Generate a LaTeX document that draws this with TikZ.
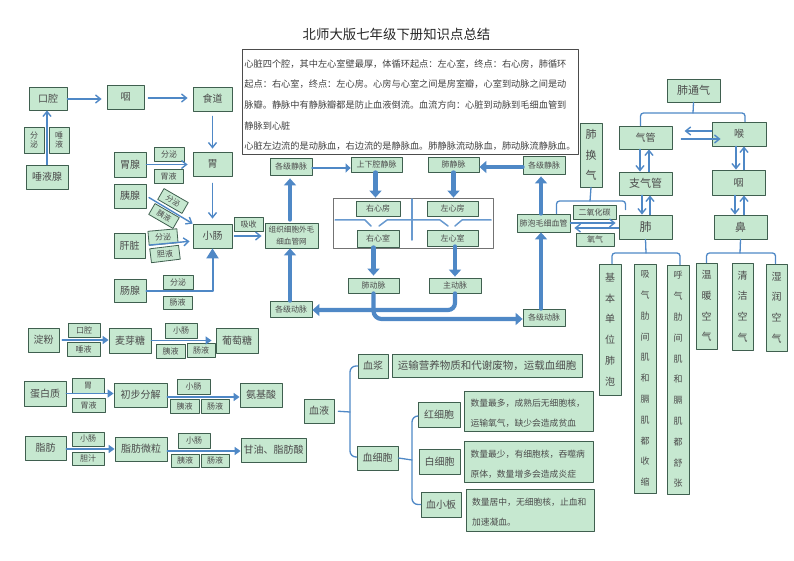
\documentclass[tikz,border=0pt]{standalone}
\usepackage{fontspec}
\setmainfont{Noto Sans CJK SC}
\usetikzlibrary{arrows.meta}
\definecolor{boxgreen}{HTML}{C6E8D0}
\definecolor{boxline}{HTML}{3F5F4F}
\definecolor{arrowblue}{HTML}{4F88C6}
\tikzset{
  gbox/.style={draw=boxline,fill=boxgreen,line width=0.8pt,inner sep=0pt,align=center,text=black!70,font=\fontsize{10}{12}\selectfont},
  gsmall/.style={gbox,font=\fontsize{8}{9}\selectfont},
  gtall/.style={gbox,font=\fontsize{10}{20.8}\selectfont},
  gnote/.style={gbox,align=left,text width=116pt,font=\fontsize{8.8}{20}\selectfont,execute at begin node=\rule{0pt}{12pt}},
  bx/.style 2 args={minimum width=#1pt,minimum height=#2pt},
  thinarrow/.style={draw=arrowblue,line width=1.4pt,-{Straight Barb[length=5pt,width=8pt]}},
  midarrow/.style={draw=arrowblue,line width=1.8pt,-{Triangle[length=6pt,width=8pt]}},
  thickarrow/.style={draw=arrowblue,line width=4.2pt,-{Triangle[length=7pt,width=12pt]}},
  bline/.style={draw=arrowblue,line width=1.3pt,rounded corners=3pt}
}
\begin{document}
\begin{tikzpicture}[line cap=round,line join=round,x=1pt,y=-1pt]
\useasboundingbox (0,0) rectangle (794,561);
\node[font=\fontsize{13.4}{15}\selectfont,inner sep=0pt,text=black!85] (title) at (396.5,34) {北师大版七年级下册知识点总结};
\node[draw=black!70,line width=0.8pt,inner sep=0pt,bx={336}{105},align=left,text=black!75,font=\fontsize{9.2}{20.7}\selectfont] (note) at (410,101.5) {\rule{0pt}{15pt}心脏四个腔，其中左心室壁最厚，体循环起点：左心室，终点：右心房，肺循环\\起点：右心室，终点：左心房。心房与心室之间是房室瓣，心室到动脉之间是动\\脉瓣。静脉中有静脉瓣都是防止血液倒流。血流方向：心脏到动脉到毛细血管到\\静脉到心脏\\心脏左边流的是动脉血，右边流的是静脉血。肺静脉流动脉血，肺动脉流静脉血。};

\node[gbox,bx={38}{23}] (kouqiang) at (48,98.5) {口腔};
\node[gbox,bx={37}{24}] (yan) at (125.5,97) {咽};
\node[gbox,bx={39}{24}] (shidao) at (212.5,99) {食道};
\node[gsmall,bx={20}{26}] (fenmiA) at (34,140) {分\\泌};
\node[gsmall,bx={20}{26}] (tuoyeA) at (59,140) {唾\\液};
\node[gbox,bx={42}{24}] (tuoyexian) at (47,177) {唾液腺};
\node[gbox,bx={32}{25}] (weixian) at (130,164.5) {胃腺};
\node[gsmall,bx={30}{14}] (fenmiB) at (169,154) {分泌};
\node[gsmall,bx={29}{14}] (weiyeA) at (168.5,176) {胃液};
\node[gbox,bx={39}{24}] (wei) at (212.5,164) {胃};
\node[gbox,bx={32}{24}] (yixian) at (130,196) {胰腺};
\node[gsmall,bx={28}{12.5},rotate=-30,font=\fontsize{7.5}{9}\selectfont] (fenmiC) at (173,201) {分泌};
\node[gsmall,bx={28}{12.5},rotate=-30,font=\fontsize{7.5}{9}\selectfont] (yiyeA) at (164,216) {胰液};
\node[gbox,bx={31}{25}] (ganzang) at (129.5,245.5) {肝脏};
\node[gsmall,bx={29}{14},rotate=5] (fenmiD) at (163,237) {分泌};
\node[gsmall,bx={29}{14},rotate=7] (danyeA) at (165,254) {胆液};
\node[gbox,bx={32}{23}] (changxian) at (130,290.5) {肠腺};
\node[gsmall,bx={30}{14}] (fenmiE) at (178,282) {分泌};
\node[gsmall,bx={29}{13}] (changyeA) at (177.5,302.5) {肠液};
\node[gbox,bx={39}{24}] (xiaochang) at (212.5,236) {小肠};
\node[gsmall,bx={29}{14}] (xishou) at (248.5,224) {吸收};

\node[draw=black!55,line width=0.8pt,inner sep=0pt,bx={160}{50}] (xinbox) at (413,223) {};
\node[gsmall,bx={42}{17}] (jingmaiL) at (291,166.5) {各级静脉};
\node[gsmall,bx={51}{15}] (shangxia) at (376.5,164.5) {上下腔静脉};
\node[gsmall,bx={51}{15}] (feijingmai) at (453.5,164.5) {肺静脉};
\node[gsmall,bx={42}{18}] (jingmaiR) at (544,165) {各级静脉};
\node[gsmall,bx={44}{15}] (youfang) at (378,208.5) {右心房};
\node[gsmall,bx={51}{15}] (zuofang) at (452.5,208.5) {左心房};
\node[gsmall,bx={42}{17}] (youshi) at (378,238.5) {右心室};
\node[gsmall,bx={51}{16}] (zuoshi) at (452.5,238) {左心室};
\node[gsmall,bx={53}{25},font=\fontsize{7.6}{12}\selectfont] (zuzhi) at (291.5,235.5) {组织细胞外毛\\细血管网};
\node[gsmall,bx={51}{15}] (feidongmai) at (373.5,285.5) {肺动脉};
\node[gsmall,bx={52}{15}] (zhudongmai) at (455,285.5) {主动脉};
\node[gsmall,bx={42}{16}] (dongmaiL) at (291,309) {各级动脉};
\node[gsmall,bx={42}{17}] (dongmaiR) at (544,317.5) {各级动脉};
\node[gsmall,bx={53}{18}] (feipao) at (543.5,223) {肺泡毛细血管};

\node[gbox,bx={53}{23},font=\fontsize{11}{13}\selectfont] (feitongqi) at (693.5,90.5) {肺通气};
\node[gbox,bx={53}{23}] (qiguan) at (645.5,137.5) {气管};
\node[gbox,bx={54}{24}] (hou) at (739,134) {喉};
\node[gbox,bx={53}{23},font=\fontsize{11}{13}\selectfont] (zhiqiguan) at (645.5,183.5) {支气管};
\node[gbox,bx={53}{25}] (yanB) at (738.5,182.5) {咽};
\node[gbox,bx={53}{24},font=\fontsize{12}{14}\selectfont] (fei) at (645.5,227) {肺};
\node[gbox,bx={53}{24},font=\fontsize{11}{13}\selectfont] (bi) at (740.5,227) {鼻};
\node[gtall,bx={22}{64},font=\fontsize{11}{20.8}\selectfont] (feihuanqi) at (591,155) {肺\\换\\气};
\node[gsmall,bx={43}{14}] (eryang) at (594.5,212) {二氧化碳};
\node[gsmall,bx={38}{13}] (yangqi) at (595,239.5) {氧气};
\node[gtall,bx={22}{131}] (jiben) at (610,329.5) {基\\本\\单\\位\\肺\\泡};
\node[gtall,bx={22}{229},font=\fontsize{9}{20.8}\selectfont] (xiqi) at (645,378.5) {吸\\气\\肋\\间\\肌\\和\\膈\\肌\\都\\收\\缩};
\node[gtall,bx={22}{229},font=\fontsize{9}{20.8}\selectfont] (huqi) at (678,379.5) {呼\\气\\肋\\间\\肌\\和\\膈\\肌\\都\\舒\\张};
\node[gtall,bx={21}{86}] (wennuan) at (706.5,306) {温\\暖\\空\\气};
\node[gtall,bx={21}{87}] (qingjie) at (742.5,306.5) {清\\洁\\空\\气};
\node[gtall,bx={21}{87}] (shirun) at (776.5,307.5) {湿\\润\\空\\气};

\node[gbox,bx={31}{24}] (dianfen) at (43.5,340) {淀粉};
\node[gsmall,bx={32}{14}] (kouqiangB) at (84,330) {口腔};
\node[gsmall,bx={33}{14}] (tuoyeB) at (83.5,349) {唾液};
\node[gbox,bx={42}{25}] (maiyatang) at (130,340.5) {麦芽糖};
\node[gsmall,bx={32}{15}] (xiaochangB) at (181,330.5) {小肠};
\node[gsmall,bx={29}{14}] (yiyeB) at (170.5,351) {胰液};
\node[gsmall,bx={28}{14}] (changyeB) at (201,350) {肠液};
\node[gbox,bx={42}{25}] (putaotang) at (237,340.5) {葡萄糖};
\node[gbox,bx={42}{25}] (danbaizhi) at (45,393.5) {蛋白质};
\node[gsmall,bx={32}{15}] (weiB) at (88,385.5) {胃};
\node[gsmall,bx={33}{14}] (weiyeB) at (88.5,405) {胃液};
\node[gbox,bx={53}{24}] (chubu) at (140.5,395) {初步分解};
\node[gsmall,bx={33}{15}] (xiaochangC) at (193.5,386.5) {小肠};
\node[gsmall,bx={29}{14}] (yiyeC) at (184.5,406) {胰液};
\node[gsmall,bx={28}{14}] (changyeC) at (215,406) {肠液};
\node[gbox,bx={42}{24}] (anjisuan) at (261,395) {氨基酸};
\node[gbox,bx={41}{24}] (zhifang) at (45.5,448) {脂肪};
\node[gsmall,bx={32}{14}] (xiaochangD) at (88,439) {小肠};
\node[gsmall,bx={32}{13}] (danzhi) at (88,458.5) {胆汁};
\node[gbox,bx={52}{24}] (weili) at (141,449) {脂肪微粒};
\node[gsmall,bx={32}{15}] (xiaochangE) at (194,440.5) {小肠};
\node[gsmall,bx={28}{13}] (yiyeD) at (185,460.5) {胰液};
\node[gsmall,bx={28}{13}] (changyeD) at (215,460.5) {肠液};
\node[gbox,bx={65}{24}] (ganyou) at (273.5,450) {甘油、脂肪酸};

\node[gbox,bx={30}{24}] (xueye) at (319,411) {血液};
\node[gbox,bx={30}{24}] (xuejiang) at (373,366) {血浆};
\node[gbox,bx={190}{23},font=\fontsize{10.5}{12}\selectfont] (yunshu) at (487,365.5) {运输营养物质和代谢废物，运载血细胞};
\node[gbox,bx={41}{24}] (xuexibao) at (377.5,458) {血细胞};
\node[gbox,bx={42}{25}] (hong) at (439,414.5) {红细胞};
\node[gbox,bx={41}{25}] (bai) at (439.5,461.5) {白细胞};
\node[gbox,bx={40}{25}] (xiaoban) at (441,504.5) {血小板};
\node[gnote,bx={129}{40}] (hongnote) at (528.5,411) {数量最多，成熟后无细胞核，\\运输氧气，缺少会造成贫血};
\node[gnote,bx={129}{41}] (bainote) at (528.5,461.5) {数量最少，有细胞核，吞噬病\\原体，数量增多会造成炎症};
\node[gnote,bx={128}{42}] (bannote) at (530,510) {数量居中，无细胞核，止血和\\加速凝血。};

\draw[thinarrow] (tuoyexian.north) -- (tuoyexian.north |- kouqiang.south);
\draw[thinarrow,shorten >=5pt] ([yshift=-0.5pt]kouqiang.east) -- ([yshift=-0.5pt]kouqiang.east -| yan.west);
\draw[thinarrow,shorten >=5pt,shorten <=4pt] ([yshift=-1pt]yan.east) -- ([yshift=-1pt]yan.east -| shidao.west);
\draw[thinarrow,shorten >=3pt,shorten <=5pt] (shidao.south) -- (wei.north);
\draw[thinarrow,shorten >=5pt,shorten <=7pt] (wei.south) -- (xiaochang.north);
\draw[thinarrow,shorten >=5pt] (weixian.east) -- (weixian.east -| wei.west);
\draw[thinarrow,shorten <=3pt] (yixian.east) -- (xiaochang.north west);
\draw[thinarrow,shorten >=3pt,shorten <=4pt] (ganzang.east) -- ([yshift=-5pt]xiaochang.west);
\draw[draw=arrowblue,line width=2pt,-{Triangle[length=10pt,width=12pt]}] (changxian.east) -| (xiaochang.south);
\draw[thinarrow,shorten >=3pt,shorten <=2pt] (xiaochang.east) -- (xiaochang.east -| zuzhi.west);

\draw[thickarrow] ([xshift=-1pt]dongmaiL.north) -- ([xshift=-1pt]dongmaiL.north |- zuzhi.south);
\draw[thickarrow,shorten >=3pt,shorten <=3pt] ([xshift=-1pt]jingmaiL.south |- zuzhi.north) -- ([xshift=-1pt]jingmaiL.south);
\draw[draw=arrowblue,line width=2.8pt,-{Triangle[length=5pt,width=9pt]}] ([yshift=-1.5pt]jingmaiL.east) -- ([yshift=-1.5pt]jingmaiL.east -| shangxia.west);
\draw[thickarrow] ([xshift=-1pt]shangxia.south) -- ([xshift=-1pt]shangxia.south |- xinbox.north);
\draw[thickarrow] (feijingmai.south) -- (feijingmai.south |- xinbox.north);
\draw[thickarrow] ([yshift=-2pt]jingmaiR.west) -- ([yshift=-2pt]jingmaiR.west -| feijingmai.east);
\draw[thickarrow,shorten >=2pt] ([xshift=-3pt]jingmaiR.south |- feipao.north) -- ([xshift=-3pt]jingmaiR.south);
\draw[thickarrow] ([xshift=-3pt]dongmaiR.north) -- ([xshift=-3pt]dongmaiR.north |- feipao.south);
\draw[thickarrow,shorten >=2pt] (youshi.south -| feidongmai.north) -- (feidongmai.north);
\draw[thickarrow,shorten >=1pt] (zuoshi.south -| zhudongmai.north) -- (zhudongmai.north);
\draw[thickarrow,rounded corners=7pt] (zhudongmai.south) |- ([yshift=-1pt]dongmaiL.east);
\draw[thickarrow,rounded corners=8pt] (feidongmai.south) |- ([yshift=-1.5pt]dongmaiR.west);

\draw[draw=arrowblue!85,line width=1.5pt] (412,199) -- (412,240);
\draw[draw=arrowblue!85,line width=1.5pt] (335,220) -- (365,220) -- (371,226);
\draw[draw=arrowblue!85,line width=1.5pt] (379,226) -- (387,220) -- (440,220) -- (448,226);
\draw[draw=arrowblue!85,line width=1.5pt] (455,226) -- (462,220) -- (491,220);

\coordinate (tongqifork) at (693,113);
\coordinate (huanqifork) at (590,201);
\coordinate (feifork) at (646,253);
\coordinate (bifork) at (740,253);
\draw[bline] (feitongqi.south) -- (tongqifork);
\draw[bline] ([xshift=-5pt]qiguan.north) |- (tongqifork) -| ([xshift=6pt]hou.north);
\draw[bline] (feihuanqi.south) -- (huanqifork);
\draw[bline] ([xshift=13pt]feipao.north) |- (huanqifork) -| ([xshift=-20pt,yshift=5pt]fei.north);
\draw[bline] (fei.south) -- (feifork);
\draw[bline] ([xshift=2pt]jiben.north) |- (feifork) -| ([xshift=2pt]huqi.north);
\draw[bline] (bi.south) -- (bifork);
\draw[bline] (wennuan.north) |- (bifork) -| ([xshift=-1pt]shirun.north);

\draw[thinarrow] ([yshift=3pt]hou.west) -- ++(-27,0);
\draw[thinarrow] ([xshift=9pt,yshift=-1.5pt]qiguan.east) -- ([xshift=9pt,yshift=-1.5pt]qiguan.east -| hou.west);
\draw[thinarrow] ([xshift=-5.5pt]qiguan.south) -- ([xshift=-5.5pt]zhiqiguan.north);
\draw[thinarrow] ([xshift=3.5pt]zhiqiguan.north) -- ([xshift=3.5pt]qiguan.south);
\draw[thinarrow] ([xshift=-3.5pt]zhiqiguan.south) -- ([xshift=-3.5pt]fei.north);
\draw[thinarrow] ([xshift=4.5pt]fei.north) -- ([xshift=4.5pt]zhiqiguan.south);
\draw[thinarrow] ([xshift=-3pt]hou.south) -- ([xshift=-3pt]hou.south |- yanB.north);
\draw[thinarrow] ([xshift=5pt]hou.south |- yanB.north) -- ([xshift=5pt]hou.south);
\draw[thinarrow] ([xshift=-3.5pt]yanB.south) -- ([xshift=-3.5pt]yanB.south |- bi.north);
\draw[thinarrow] ([xshift=5.5pt]yanB.south |- bi.north) -- ([xshift=5.5pt]yanB.south);
\draw[thinarrow,shorten >=3pt] (feipao.east) -- (feipao.east -| fei.west);
\draw[thinarrow,shorten >=4pt] ([yshift=-5pt]feipao.east -| fei.west) -- ([yshift=-5pt]feipao.east);

\draw[midarrow,shorten <=3pt] (dianfen.east) -- (dianfen.east -| maiyatang.west);
\draw[midarrow,shorten >=4pt] (maiyatang.east) -- (maiyatang.east -| putaotang.west);
\draw[midarrow] (danbaizhi.east) -- (danbaizhi.east -| chubu.west);
\draw[midarrow] ([yshift=-2pt]chubu.east) -- ([yshift=-2pt]chubu.east -| anjisuan.west);
\draw[midarrow] ([yshift=-1pt]zhifang.east) -- ([yshift=-1pt]zhifang.east -| weili.west);
\draw[midarrow] ([yshift=-2pt]weili.east) -- ([yshift=-2pt]weili.east -| ganyou.west);

\coordinate (xueyefork) at (350,412);
\coordinate (xibaofork) at (412,460);
\draw[bline,shorten <=4pt] (xueye.east) -- (xueyefork);
\draw[bline,rounded corners=6pt] (xuejiang.west) -| (xueyefork) |- ([yshift=1pt]xuexibao.west);
\draw[bline] (xuexibao.east) -- (xibaofork);
\draw[bline,rounded corners=6pt] ([yshift=-1.5pt]hong.west) -| (xibaofork) |- (xiaoban.west);
\end{tikzpicture}
\end{document}
